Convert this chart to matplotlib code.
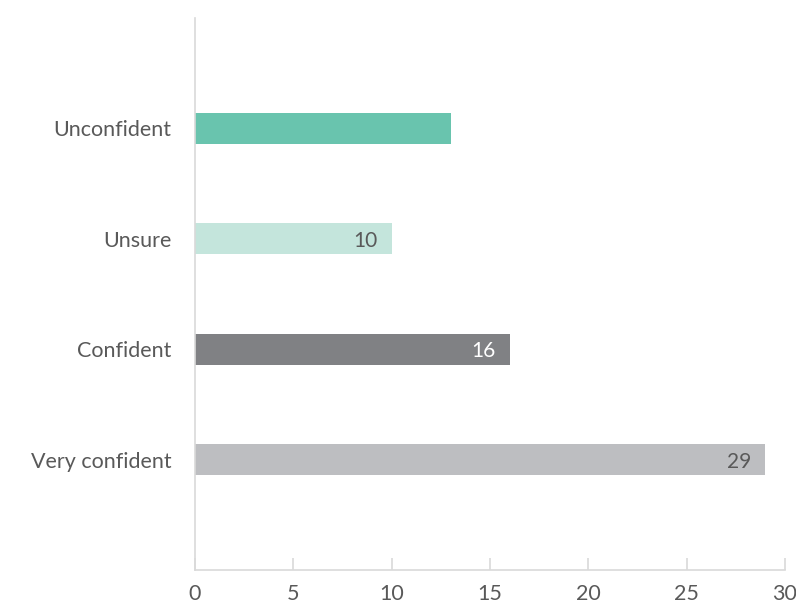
import matplotlib
matplotlib.use("Agg")
import matplotlib.pyplot as plt

categories = ["Unconfident", "Unsure", "Confident", "Very confident"]
values = [13, 10, 16, 29]
labels = [None, "10", "16", "29"]
bar_colors = ["#69C4AE", "#C4E5DC", "#808184", "#BDBEC1"]
label_colors = [None, "#595959", "#FFFFFF", "#595959"]
xticks = [0, 5, 10, 15, 20, 25, 30]

plt.rcParams["font.family"] = ["Lato", "DejaVu Sans"]

fig = plt.figure(figsize=(7.96, 6.03), dpi=100)
ax = fig.add_axes([195 / 796, 1 - 570 / 603, (785 - 195) / 796, (570 - 18) / 603])

ypos = list(range(len(categories)))
ax.barh(ypos, values, height=0.28, color=bar_colors)
for y, v, lab, c in zip(ypos, values, labels, label_colors):
    if lab:
        ax.text(v - 0.7, y + 0.02, lab, ha="right", va="center", color=c, fontsize=15)

ax.set_xlim(0, 30)
ax.set_ylim(4.0, -1.0)
ax.set_yticks(ypos)
ax.set_yticklabels(categories)
ax.set_xticks(xticks)
ax.set_xticklabels([str(t) for t in xticks])

for s in ["top", "right"]:
    ax.spines[s].set_visible(False)
for s in ["left", "bottom"]:
    ax.spines[s].set_color("#D9D9D9")
    ax.spines[s].set_linewidth(1.2)

ax.tick_params(axis="y", length=0, pad=17, labelsize=15.5, labelcolor="#595959")
ax.tick_params(axis="x", direction="in", length=9, width=1.2, color="#D9D9D9",
               pad=10, labelsize=15.5, labelcolor="#595959")

fig.savefig("out.png", dpi=100)
